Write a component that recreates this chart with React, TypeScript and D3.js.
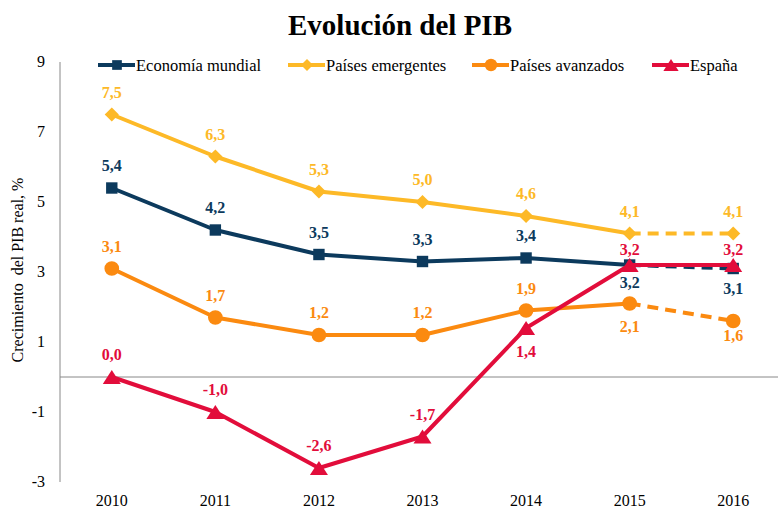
import React, { useEffect, useRef } from "react";
import { select, scaleBand, scaleLinear, line, symbol, symbolSquare, symbolCircle } from "d3";

const years = ["2010", "2011", "2012", "2013", "2014", "2015", "2016"];
const yTicks = [-3, -1, 1, 3, 5, 7, 9];

const mundial = [5.4, 4.2, 3.5, 3.3, 3.4, 3.2, 3.1];
const emergentes = [7.5, 6.3, 5.3, 5.0, 4.6, 4.1, 4.1];
const avanzados = [3.1, 1.7, 1.2, 1.2, 1.9, 2.1, 1.6];
const espana = [0.0, -1.0, -2.6, -1.7, 1.4, 3.2, 3.2];

const seriesNames = ["Economía mundial", "Países emergentes", "Países avanzados", "España"];

const W = 778;
const H = 508;
const FONT = "Liberation Serif";

export default function App() {
  const svgRef = useRef<SVGSVGElement>(null);

  useEffect(() => {
    const svg = select(svgRef.current);
    svg.selectAll("*").remove();

    const xScale = scaleBand().domain(years).range([60, 785]);
    const yScale = scaleLinear().domain([-3, 9]).range([482, 62]);
    const cx = (i: number) => (xScale(years[i]) as number) + xScale.bandwidth() / 2;

    // label placement: default above the point; some go below, some sit closer
    const series = [
      { name: seriesNames[0], values: mundial, color: "#0c3a5d", shape: "square", dashLast: true, dy: { 5: 23, 6: 25 } },
      { name: seriesNames[1], values: emergentes, color: "#fdb927", shape: "diamond", dashLast: true, dy: {} },
      { name: seriesNames[2], values: avanzados, color: "#fb8a10", shape: "circle", dashLast: true, dy: { 5: 28, 6: 20 } },
      { name: seriesNames[3], values: espana, color: "#e20d3b", shape: "triangle", dashLast: false, dy: { 4: 29, 5: -10, 6: -10 } },
    ];

    const markerPath = (shape: string, k = 1) => {
      if (shape === "square") return symbol(symbolSquare, 130 * k * k)();
      if (shape === "diamond") return symbol(symbolSquare, 100 * k * k)();
      if (shape === "circle") return symbol(symbolCircle, 170 * k * k)();
      const w = 9 * k, h = 14 * k;
      return `M${-w},${h / 2}L0,${-h / 2}L${w},${h / 2}Z`;
    };
    const markerRot = (shape: string) => (shape === "diamond" ? " rotate(45)" : "");

    // title
    svg.append("text")
      .attr("x", 400).attr("y", 35)
      .attr("text-anchor", "middle").attr("font-family", FONT)
      .attr("font-size", 29).attr("font-weight", "bold")
      .text("Evolución del PIB");

    // axes lines
    svg.append("line").attr("x1", 60).attr("x2", 60).attr("y1", 62).attr("y2", 482)
      .attr("stroke", "#888").attr("stroke-width", 1);
    svg.append("line").attr("x1", 60).attr("x2", 778).attr("y1", yScale(0)).attr("y2", yScale(0))
      .attr("stroke", "#888").attr("stroke-width", 1);

    svg.selectAll(".ytick").data(yTicks).join("text")
      .attr("class", "ytick").attr("font-family", FONT)
      .attr("x", 45).attr("y", d => yScale(d) + 5)
      .attr("text-anchor", "end").attr("font-size", 16)
      .text(d => String(d));

    svg.selectAll(".xtick").data(years).join("text")
      .attr("class", "xtick").attr("font-family", FONT)
      .attr("x", (d, i) => cx(i)).attr("y", 506)
      .attr("text-anchor", "middle").attr("font-size", 16)
      .text(d => d);

    svg.append("text")
      .attr("transform", `translate(23, 270) rotate(-90)`)
      .attr("text-anchor", "middle").attr("font-size", 16).attr("font-family", FONT)
      .attr("xml:space", "preserve")
      .text("Crecimiento  del PIB real, %");

    const lineGen = line<number>().x((d, i) => cx(i)).y(d => yScale(d));

    series.forEach(s => {
      const g = svg.append("g");
      const solid = s.dashLast ? s.values.slice(0, 6) : s.values;
      g.append("path").attr("d", lineGen(solid)).attr("fill", "none")
        .attr("stroke", s.color).attr("stroke-width", 4).attr("stroke-linejoin", "round");
      if (s.dashLast) {
        g.append("path")
          .attr("d", `M${cx(5)},${yScale(s.values[5])}L${cx(6)},${yScale(s.values[6])}`)
          .attr("fill", "none").attr("stroke", s.color).attr("stroke-width", 4)
          .attr("stroke-dasharray", "11,7");
      }
      g.selectAll("path.m").data(s.values).join("path")
        .attr("class", "m")
        .attr("transform", (d, i) => `translate(${cx(i)},${yScale(d)})${markerRot(s.shape)}`)
        .attr("d", markerPath(s.shape))
        .attr("fill", s.color);
      g.selectAll("text").data(s.values).join("text")
        .attr("x", (d, i) => cx(i))
        .attr("y", (d, i) => yScale(d) + ((s.dy as Record<number, number>)[i] ?? -17))
        .attr("text-anchor", "middle").attr("font-size", 16).attr("font-weight", "bold")
        .attr("font-family", FONT)
        .attr("fill", s.color)
        .text(d => d.toFixed(1).replace(".", ","));
    });

    // legend
    const legendX = [98, 288, 472, 652];
    series.forEach((s, i) => {
      const g = svg.append("g").attr("transform", `translate(${legendX[i]},65)`);
      g.append("line").attr("x1", 0).attr("x2", 37).attr("y1", 0).attr("y2", 0)
        .attr("stroke", s.color).attr("stroke-width", 4);
      g.append("path").attr("transform", `translate(19,0)${markerRot(s.shape)}`)
        .attr("d", markerPath(s.shape, 0.85)).attr("fill", s.color);
      g.append("text").attr("x", 38).attr("y", 6).attr("font-size", 16.5)
        .attr("font-family", FONT).text(s.name);
    });
  }, []);

  return (
    <svg ref={svgRef} width={W} height={H}
      style={{ position: "absolute", left: 0, top: 0, background: "#fff" }} />
  );
}
